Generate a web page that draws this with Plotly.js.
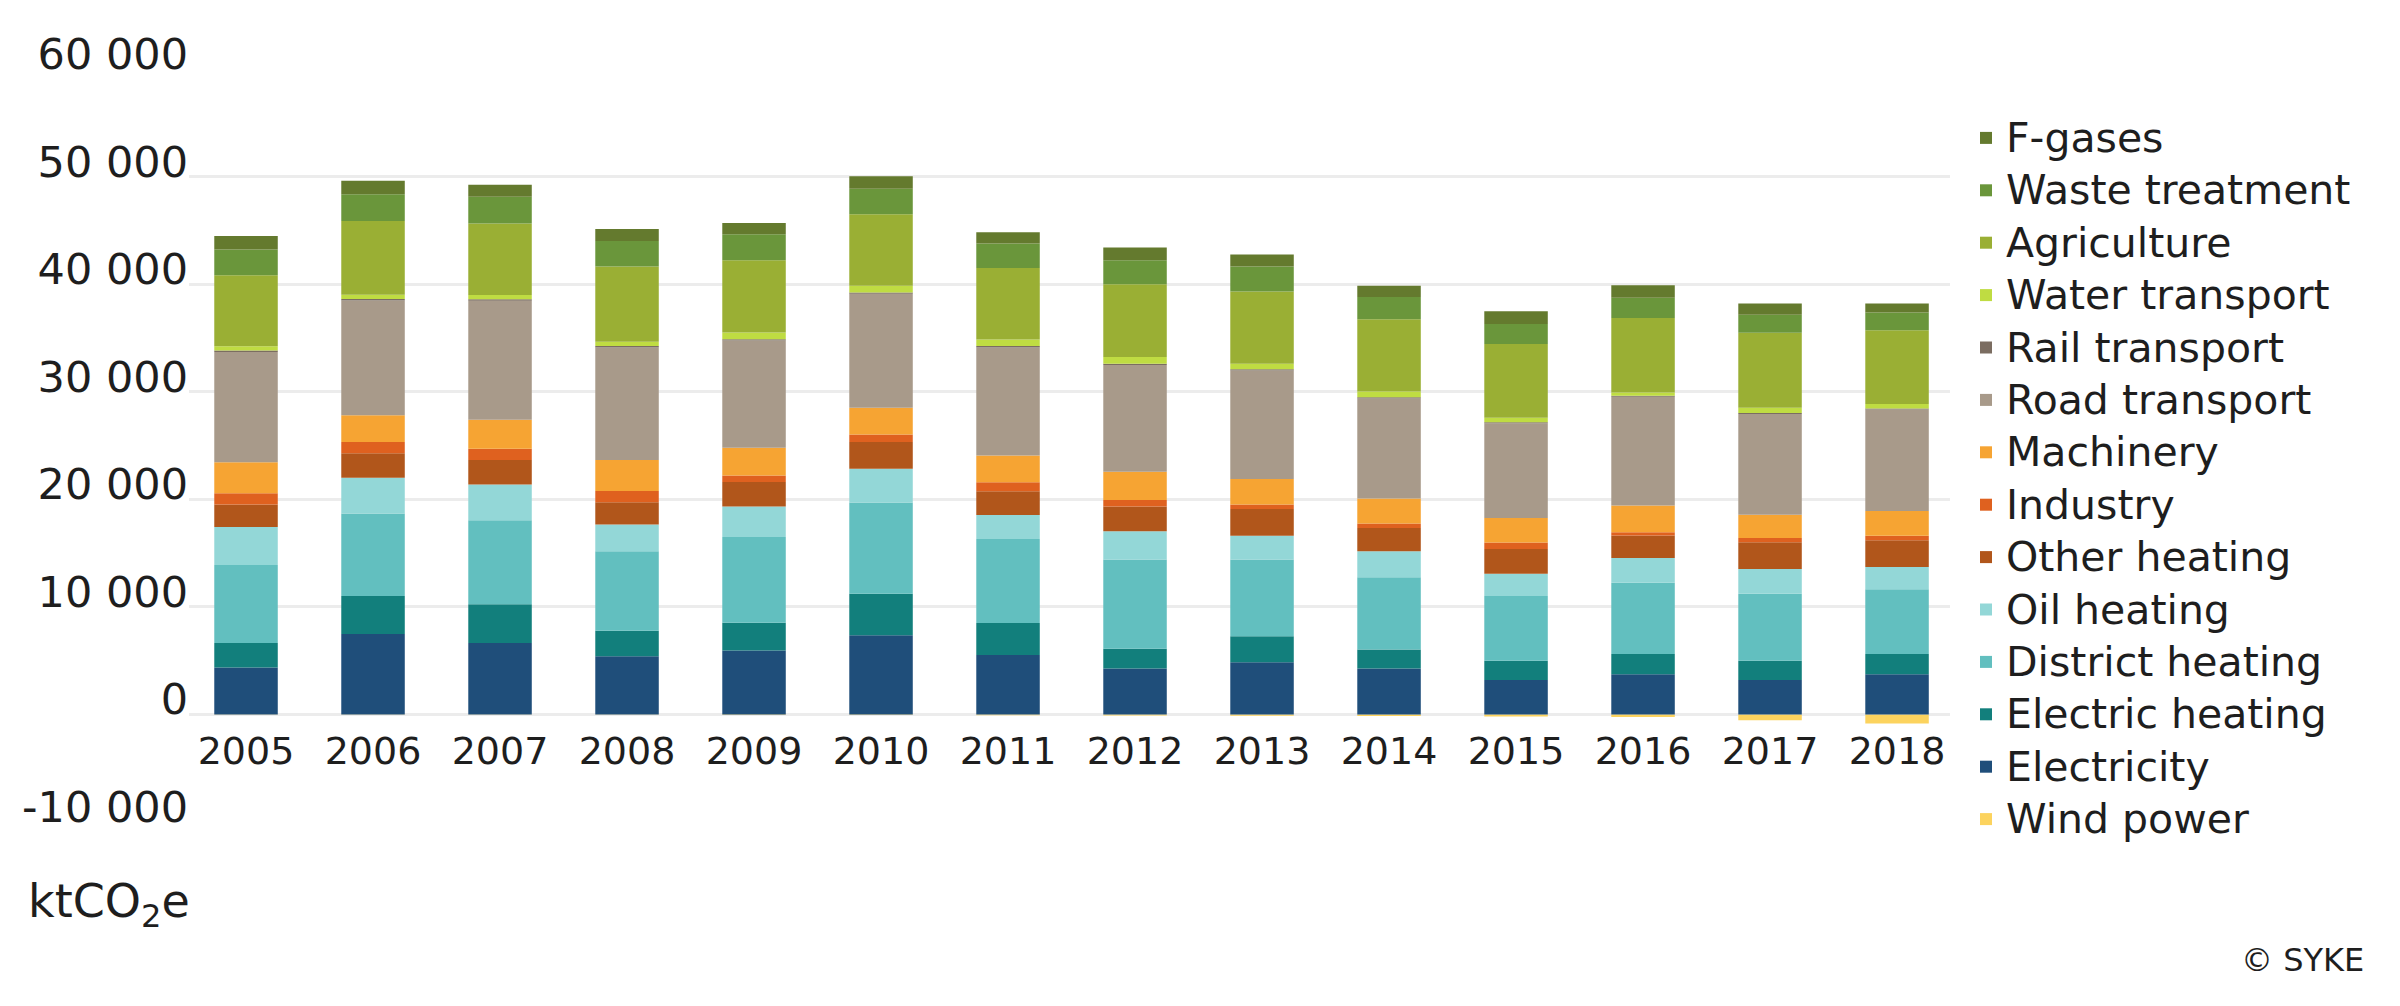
<!DOCTYPE html>
<html>
<head>
<meta charset="utf-8">
<script src="https://cdn.plot.ly/plotly-3.0.1.min.js"></script>
<style>
html, body { margin: 0; padding: 0; background: #ffffff; }
#chart { width: 2400px; height: 1006px; }
</style>
</head>
<body>
<div id="chart"></div>
<script>
// ---- Data (ktCO2e) ----
const years = ['2005','2006','2007','2008','2009','2010','2011','2012','2013','2014','2015','2016','2017','2018'];

const windPower       = [-20, -30, -30, -40, -50, -60, -80, -100, -130, -150, -200, -250, -550, -850];
const electricity     = [4360, 7470, 6640, 5400, 5940, 7350, 5520, 4280, 4860, 4280, 3200, 3740, 3200, 3740];
const electricHeating = [2280, 3530, 3610, 2370, 2580, 3860, 2990, 1830, 2400, 1750, 1790, 1870, 1790, 1870];
const districtHeating = [7260, 7680, 7800, 7390, 7970, 8500, 7800, 8300, 7140, 6720, 6020, 6640, 6230, 6020];
const oilHeating      = [3530, 3330, 3320, 2490, 2830, 3120, 2240, 2620, 2200, 2410, 2070, 2290, 2290, 2080];
const otherHeating    = [2080, 2280, 2290, 2070, 2280, 2490, 2200, 2290, 2490, 2160, 2290, 2100, 2490, 2490];
const industry        = [1040, 1040, 1040, 1040, 620, 700, 830, 620, 420, 420, 620, 300, 410, 420];
const machinery       = [2900, 2490, 2700, 2900, 2580, 2490, 2490, 2620, 2370, 2330, 2280, 2490, 2160, 2280];
const roadTransport   = [10250, 10650, 11050, 10450, 9950, 10600, 10050, 9930, 10100, 9300, 8800, 10100, 9350, 9450];
const railTransport   = [130, 140, 140, 130, 130, 120, 120, 110, 110, 110, 100, 100, 100, 100];
const waterTransport  = [400, 410, 400, 410, 620, 620, 620, 620, 500, 530, 420, 300, 500, 410];
const agriculture     = [6600, 6850, 6650, 6980, 6730, 6640, 6640, 6770, 6720, 6730, 6850, 6930, 6970, 6850];
const wasteTreatment  = [2400, 2490, 2490, 2370, 2410, 2370, 2280, 2240, 2330, 2070, 1860, 1870, 1660, 1660];
const fGases          = [1250, 1240, 1120, 1120, 1040, 1170, 1040, 1170, 1120, 1040, 1170, 1160, 1040, 830];

const seriesNames = ['Wind power','Electricity','Electric heating','District heating','Oil heating',
  'Other heating','Industry','Machinery','Road transport','Rail transport','Water transport',
  'Agriculture','Waste treatment','F-gases'];

const yTickValues = [-10000, 0, 10000, 20000, 30000, 40000, 50000, 60000];
const yTickLabels = ['-10 000', '0', '10 000', '20 000', '30 000', '40 000', '50 000', '60 000'];

const unitLabel = 'ktCO<sub>2</sub>e';
const sourceLabel = '© SYKE';

// ---- Styles ----
const seriesValues = [windPower, electricity, electricHeating, districtHeating, oilHeating,
  otherHeating, industry, machinery, roadTransport, railTransport, waterTransport,
  agriculture, wasteTreatment, fGases];
const seriesColors = ['#fcd35e','#1f4e7a','#127f7c','#62bfbf','#93d7d7',
  '#b1561b','#df611f','#f6a433','#a89a8a','#7b6d61','#bfdc42',
  '#9aaf34','#6a963b','#647a2e'];

const FONT = '"DejaVu Sans", "Open Sans", sans-serif';
const TEXT = '#1e1e1e';
const LEGEND_TEXT_PX = 41;

const traces = seriesNames.map((name, i) => ({
  type: 'bar',
  name: '<span style="font-size:' + LEGEND_TEXT_PX + 'px">' + name + '</span>',
  legendgroup: name,
  legendrank: 100 - i,
  x: years,
  y: seriesValues[i],
  marker: { color: seriesColors[i], line: { width: 0 } },
  hovertemplate: '%{x}: %{y}<extra>' + name + '</extra>'
}));

const plotLeft = 189, plotRight = 1950, plotTop = 69, plotBottom = 822;
const W = 2400, H = 1006;
const pw = plotRight - plotLeft, ph = plotBottom - plotTop;

const layout = {
  width: W,
  height: H,
  margin: { l: plotLeft, r: W - plotRight, t: plotTop, b: H - plotBottom, pad: 0 },
  paper_bgcolor: '#ffffff',
  plot_bgcolor: '#ffffff',
  font: { family: FONT, color: TEXT, size: 38 },
  barmode: 'relative',
  bargap: 0.5,
  showlegend: true,
  xaxis: {
    type: 'category',
    range: [-0.449, 13.417],
    anchor: 'free',
    position: 10000 / 70000,
    showline: false,
    showgrid: false,
    zeroline: false,
    ticks: '',
    ticklabelstandoff: 11,
    tickfont: { family: FONT, size: 38, color: TEXT },
    fixedrange: true
  },
  yaxis: {
    range: [-10000, 60000],
    tickmode: 'array',
    tickvals: yTickValues,
    ticktext: yTickLabels,
    showline: false,
    showgrid: true,
    gridcolor: '#ececec',
    gridwidth: 3,
    zeroline: true,
    zerolinecolor: '#ececec',
    zerolinewidth: 3,
    ticks: '',
    ticklabelshift: -15,
    tickfont: { family: FONT, size: 43, color: TEXT },
    fixedrange: true
  },
  legend: {
    xref: 'container',
    yref: 'container',
    x: 1966 / W,
    y: 1 - 108 / H,
    xanchor: 'left',
    yanchor: 'top',
    maxheight: 900,
    traceorder: 'grouped',
    tracegroupgap: 2.6,
    font: { family: FONT, size: 36, color: TEXT },
    bgcolor: 'rgba(0,0,0,0)',
    borderwidth: 0
  },
  annotations: [
    {
      xref: 'paper', yref: 'paper',
      x: (26 - plotLeft) / pw, y: (plotBottom - 905) / ph,
      xanchor: 'left', yanchor: 'middle',
      text: unitLabel, showarrow: false,
      font: { family: FONT, size: 46, color: TEXT }
    },
    {
      xref: 'paper', yref: 'paper',
      x: (2366 - plotLeft) / pw, y: (plotBottom - 960) / ph,
      xanchor: 'right', yanchor: 'middle',
      text: sourceLabel, showarrow: false,
      font: { family: FONT, size: 32, color: TEXT }
    }
  ]
};

Plotly.newPlot('chart', traces, layout, { displayModeBar: false, staticPlot: true });
</script>
</body>
</html>
